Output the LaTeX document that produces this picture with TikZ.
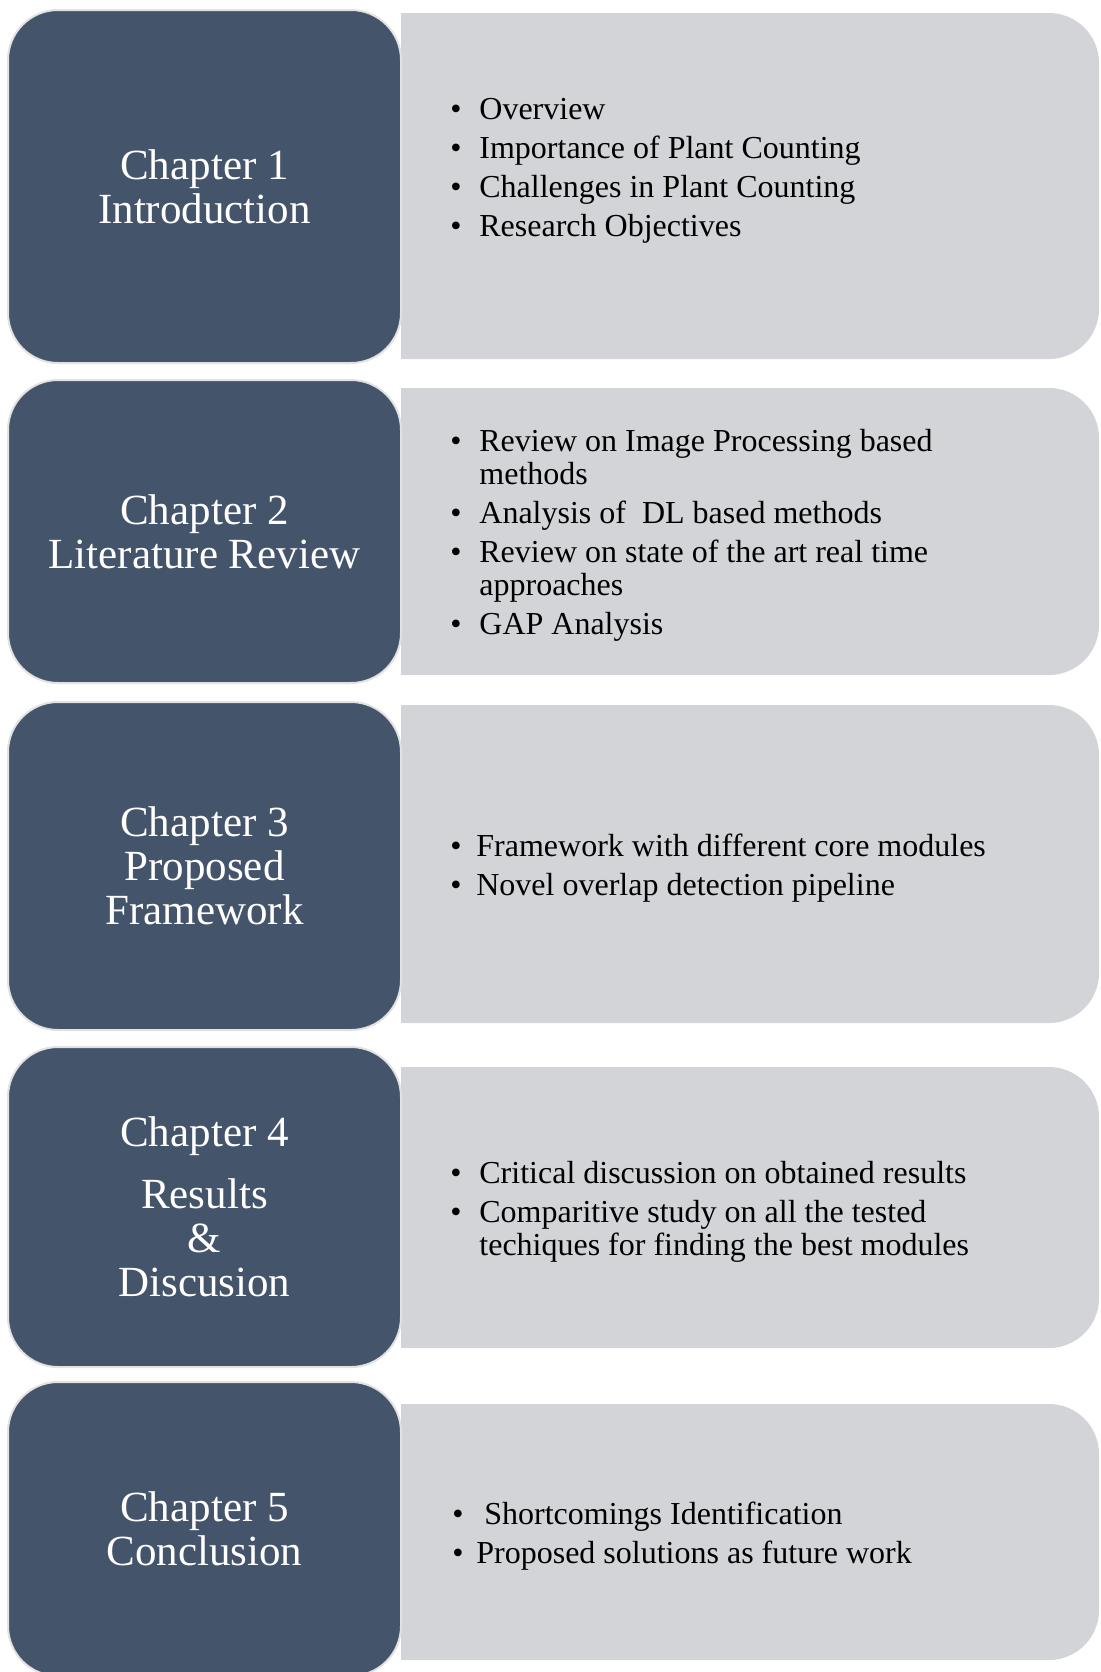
\documentclass[tikz,border=0pt]{standalone}
\usepackage{fontspec}
\setmainfont{Liberation Serif}
\usetikzlibrary{positioning}
\definecolor{ChapterSlate}{RGB}{68,84,106}
\definecolor{ChapterRim}{RGB}{226,226,226}
\definecolor{TopicGray}{RGB}{211,212,216}
\newcommand{\topiclist}[2][14.5pt]{\begin{tabular}{@{}p{#1}@{}l@{}}#2\end{tabular}}

\begin{document}
\begin{tikzpicture}[x=0.5pt,y=-0.5pt,
  chapbox/.style={fill=ChapterSlate,draw=ChapterRim,line width=1pt,
    rounded corners=25pt,minimum width=196.5pt,text=white,align=center,
    font=\fontsize{21.5}{22}\selectfont},
  topicbox/.style={fill=TopicGray},
  topictext/.style={anchor=west,inner sep=0pt,font=\fontsize{16}{16.5}\selectfont}]
  \useasboundingbox (0,0) rectangle (1100,1672);
  % grey panels, square on the left, round on the right
  \foreach \t/\b in {13/359,388/675,705/1023,1067/1348,1404/1660}
    \fill[topicbox] (401,\b) -- (401,\t) [rounded corners=25pt] -- (1099,\t)
      -- (1099,\b) [sharp corners] -- cycle;
  % chapter blocks
  \node[chapbox,minimum height=176.5pt] (chap1) at (204.5,186.5) {Chapter 1\\Introduction};
  \node[chapbox,minimum height=151.5pt] (chap2) at (204.5,531.5) {Chapter 2\\Literature Review};
  \node[chapbox,minimum height=164pt] (chap3) at (204.5,866) {Chapter 3\\Proposed\\Framework};
  \node[chapbox,minimum height=160pt] (chap4) at (204.5,1207) {Chapter 4\\[9pt]Results\\\&\\Discusion};
  \node[chapbox,minimum height=147pt] (chap5) at (204.5,1529) {Chapter 5\\Conclusion};
  % topics
  \node[topictext] (topic1) at (450,171) {\topiclist{
    \textbullet & Overview\\[3pt]
    \textbullet & Importance of Plant Counting\\[3pt]
    \textbullet & Challenges in Plant Counting\\[3pt]
    \textbullet & Research Objectives}};
  \node[topictext] (topic2) at (450,536) {\topiclist{
    \textbullet & Review on Image Processing based\\
                & methods\\[3pt]
    \textbullet & Analysis of\ \ DL based methods\\[3pt]
    \textbullet & Review on state of the art real time\\
                & approaches\\[3pt]
    \textbullet & GAP Analysis}};
  \node[topictext] (topic3) at (450,869) {\topiclist[13pt]{
    \textbullet & Framework with different core modules\\[3pt]
    \textbullet & Novel overlap detection pipeline}};
  \node[topictext] (topic4) at (450,1212.5) {\topiclist{
    \textbullet & Critical discussion on obtained results\\[3pt]
    \textbullet & Comparitive study on all the tested\\
                & techiques for finding the best modules}};
  \node[topictext] (topic5) at (452,1537) {\topiclist[12pt]{
    \textbullet & \ Shortcomings Identification\\[3pt]
    \textbullet & Proposed solutions as future work}};
\end{tikzpicture}
\end{document}
